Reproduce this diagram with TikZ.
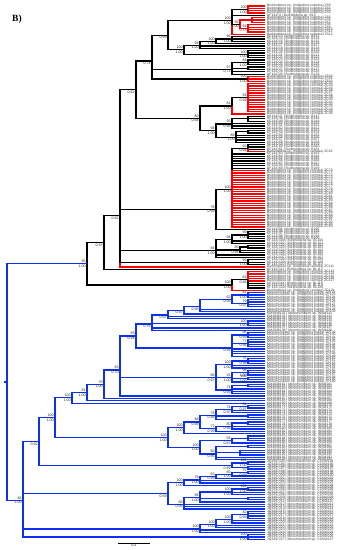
\documentclass[tikz,border=0pt]{standalone}
\usepackage{fontspec}
\setmainfont{Liberation Serif}
\setsansfont{Liberation Sans}
\usepackage{xcolor}
\usepackage{tikz}
\usetikzlibrary{positioning}
\definecolor{treered}{HTML}{FF0000}
\definecolor{treeblue}{HTML}{0A32F0}
\tikzset{
    branch/.style={line width=1.3pt},
    tiplab/.style={
        anchor=west, xshift=2pt, inner sep=0pt, text=black!75,
        font=\sffamily\fontsize{3.4}{3.4}\selectfont
    },
    supl/.style={
        inner sep=0.2pt, text=black!85,
        font=\sffamily\fontsize{3.6}{3.6}\selectfont
    },
}
% clade helpers: node y is the mean of its children, edges drawn as elbows
\newdimen\cladey
\newcommand\addmean[1]{%
  \foreach \ch in {#1}{%
    \pgfextracty{\cladey}{\pgfpointanchor{\ch}{center}}%
    \pgfmathparse{\sumy+(\the\cladey)}\xdef\sumy{\pgfmathresult}%
    \pgfmathparse{\cnt+1}\xdef\cnt{\pgfmathresult}}}
\newcommand\placenode[2]{%
  \pgfmathsetmacro\ymean{\sumy/\cnt}%
  \coordinate (#1) at (#2pt,\ymean pt);}
\newcommand\edges[3]{\foreach \ch in {#3}{\draw[branch,#2] (#1) |- (\ch);}}
\newcommand\clade[4]{\gdef\sumy{0}\gdef\cnt{0}\addmean{#4}\placenode{#1}{#2}\edges{#1}{#3}{#4}}
\newcommand\mclade[6]{\gdef\sumy{0}\gdef\cnt{0}\addmean{#4}\addmean{#6}%
  \placenode{#1}{#2}\edges{#1}{#3}{#4}\edges{#1}{#5}{#6}}
% support values: bootstrap above, posterior below the branch
\newcommand\blab[3]{%
  \node[supl,anchor=south east,xshift=-1pt,yshift=0.7pt] (#1bt) at (#1) {#2};
  \node[supl,anchor=north east,xshift=-1pt,yshift=-0.7pt] (#1pp) at (#1) {#3};}
\newcommand\plab[2]{%
  \node[supl,anchor=north east,xshift=-1pt,yshift=-0.7pt] (#1pp) at (#1) {#2};}
\newcommand\tiplabs[2]{\foreach \i in {#1}{\node[tiplab] (lab\i) at (\i) {#2};}}

\begin{document}
\begin{tikzpicture}[x=1pt,y=-1pt]
    \fill[white] (0,0) rectangle (353,550);
    \useasboundingbox (0,0) rectangle (353,550);

    \node[font=\rmfamily\bfseries\fontsize{9.5}{9.5}\selectfont] (panel) at (17,19) {B)};

    % tips
    \foreach \i in {0,...,227} \coordinate (\i) at (265,{6+2.35*\i});

    % Burkholderia: top group
    \clade{g1}{248}{treered}{0,...,3}
    \clade{n3a}{252}{treered}{5,6,7}
    \clade{n3b}{248}{treered}{8,...,11}
    \clade{n3}{240}{treered}{n3a,n3b}
    \mclade{n1}{232}{treered}{12}{black}{g1,4,n3}
    \clade{l1b}{232}{black}{13,14,15}
    \clade{l1a}{216}{black}{l1b,16}
    \clade{l1}{200}{black}{l1a,17,18}
    \clade{l2}{248}{black}{19,...,22}
    \clade{x1}{184}{black}{l1,l2}
    \clade{p1}{168}{black}{n1,x1}
    \clade{n97a}{248}{black}{23,24,25}
    \clade{n97b}{248}{black}{26,27}
    \clade{n97}{232}{black}{n97a,n97b,28,29}
    \clade{g2}{248}{treered}{30,31,32}
    \clade{q1}{152}{black}{p1,n97,g2}
    \clade{rb}{248}{treered}{33,...,45}
    \mclade{ta}{232}{black}{rb}{treered}{46}
    \clade{tb1a}{248}{black}{47,48,49}
    \clade{tb1}{232}{black}{tb1a,50,51,52}
    \clade{tb2a}{248}{black}{53,54}
    \clade{tb2}{236}{black}{55,...,58,tb2a}
    \clade{tb}{216}{black}{tb1,tb2}
    \clade{t1}{200}{black}{ta,tb}
    \clade{r1}{136}{black}{q1,t1}

    % Burkholderia: middle and lower groups
    \mclade{n92}{248}{black}{59,60,61}{treered}{62}
    \mclade{bp}{232}{black}{63,...,69,n92}{treered}{70,...,94}
    \clade{n78}{216}{black}{bp,95}
    \clade{n84a1}{248}{black}{96,...,99}
    \clade{n84a}{232}{black}{n84a1,100,101}
    \clade{n84b1}{248}{black}{102,103}
    \clade{n84b}{240}{black}{n84b1,104,105}
    \clade{n84}{216}{black}{n84a,n84b,106,107}
    \clade{n99}{248}{black}{108,109,110}
    \mclade{s1}{120}{treered}{111}{black}{r1,n78,n84,n99}
    \clade{n104}{104}{black}{s1,112}
    \mclade{bs}{248}{treered}{113,...,117}{black}{118,119,120}
    \mclade{b1}{232}{black}{bs}{treered}{121}
    \clade{n87}{87}{black}{n104,b1}

    % Mesorhizobium: upper groups
    \clade{u1a}{248}{treeblue}{122,123,124}
    \clade{u1b}{248}{treeblue}{125,...,128}
    \clade{u1}{232}{treeblue}{u1a,u1b}
    \clade{u2}{200}{treeblue}{u1,129,130}
    \clade{u3}{184}{treeblue}{u2,131}
    \clade{u4}{168}{treeblue}{u3,132,133}
    \clade{u6}{248}{treeblue}{134,135,136}
    \clade{u5}{152}{treeblue}{u4,u6,137,138}
    \clade{u7a}{248}{treeblue}{139,140,141}
    \clade{u7b}{248}{treeblue}{142,...,145}
    \clade{u7}{232}{treeblue}{u7a,u7b,146,147,148,149}
    \clade{u8}{136}{treeblue}{u5,u7}
    \clade{m1a1}{248}{treeblue}{150,151,152}
    \clade{m1a}{232}{treeblue}{m1a1,153,154}
    \clade{m1b1}{248}{treeblue}{155,156,157}
    \clade{m1b2}{248}{treeblue}{158,159}
    \clade{m1b}{232}{treeblue}{m1b1,m1b2,160}
    \clade{m1c1}{248}{treeblue}{161,162}
    \clade{m1c}{232}{treeblue}{m1c1,163,164,165}
    \clade{m1}{216}{treeblue}{m1a,m1b,m1c}
    \clade{v120}{120}{treeblue}{u8,m1,166}
    \clade{v104}{104}{treeblue}{v120,167}
    \clade{v87}{87}{treeblue}{v104,168}
    \clade{v72}{72}{treeblue}{v87,169}

    % Mesorhizobium: middle groups
    \clade{wa11}{248}{treeblue}{170,171}
    \clade{wa1}{232}{treeblue}{wa11,172,173}
    \clade{wa2}{248}{treeblue}{174,175}
    \clade{wa}{216}{treeblue}{wa1,wa2,176}
    \clade{wb1}{248}{treeblue}{177,178}
    \clade{wb}{232}{treeblue}{wb1,179,180}
    \clade{wc}{216}{treeblue}{wb,181}
    \clade{w1}{200}{treeblue}{wa,wc}
    \clade{wup}{184}{treeblue}{w1,182}
    \clade{wd1}{248}{treeblue}{183,184,185}
    \clade{wd}{232}{treeblue}{wd1,186}
    \clade{we1}{248}{treeblue}{187,188}
    \clade{we2}{240}{treeblue}{189,190,191}
    \clade{we}{216}{treeblue}{we1,we2,192,193}
    \clade{wlow}{200}{treeblue}{wd,we}
    \clade{w0}{168}{treeblue}{wup,wlow}
    \clade{v55}{55}{treeblue}{v72,w0}
    \clade{y1a}{248}{treeblue}{194,195}
    \clade{y1b}{248}{treeblue}{196,197}
    \clade{y1}{232}{treeblue}{y1a,y1b}
    \clade{v39}{39}{treeblue}{v55,y1}

    % Mesorhizobium: lower groups
    \clade{zu4}{248}{treeblue}{198,199}
    \clade{zu3}{232}{treeblue}{zu4,200}
    \clade{zu2}{216}{treeblue}{zu3,201}
    \clade{zu1}{200}{treeblue}{zu2,202,203}
    \clade{zu}{184}{treeblue}{zu1,204}
    \clade{zl3}{248}{treeblue}{205,206}
    \clade{zl2}{232}{treeblue}{zl3,207,208}
    \clade{zl4}{248}{treeblue}{209,210}
    \clade{zl1}{200}{treeblue}{zl2,zl4,211}
    \clade{zl}{184}{treeblue}{zl1,212,213,214}
    \clade{z1}{168}{treeblue}{zu,zl}
    \clade{z2a1}{248}{treeblue}{215,...,218}
    \clade{z2a}{232}{treeblue}{z2a1,219,220}
    \clade{z2b}{216}{treeblue}{z2a,221,222}
    \clade{z2}{200}{treeblue}{z2b,223,224}
    \clade{z3}{248}{treeblue}{225,226,227}
    \clade{v23}{23}{treeblue}{v39,z1,z2,z3}

    % root
    \clade{root}{7}{treeblue}{n87,v23}
    \coordinate (rootstub) at ([xshift=-3pt]root);
    \draw[branch,treeblue] (rootstub) -- (root);

    % support values
    \blab{g1}{100}{1.00}   \blab{n3}{95}{1.00}    \blab{n3b}{91}{0.73}
    \blab{n1}{100}{1.00}   \blab{l1b}{96}{1.00}   \blab{l1a}{100}{1.00}
    \blab{l1}{99}{1.00}    \blab{x1}{100}{1.00}   \blab{l2}{100}{1.00}
    \plab{p1}{0.99}        \blab{n97}{97}{0.71}   \blab{n97a}{88}{1.00}
    \blab{g2}{100}{1.00}   \plab{q1}{0.74}        \blab{rb}{91}{0.99}
    \blab{ta}{81}{1.00}    \blab{tb1}{93}{0.98}   \blab{tb2}{88}{1.00}
    \blab{tb}{94}{1.00}    \blab{t1}{80}{0.94}    \plab{r1}{0.62}
    \blab{n92}{92}{0.94}   \blab{bp}{100}{1.00}   \blab{n78}{78}{0.99}
    \blab{n84a1}{99}{1.00} \blab{n84a}{94}{1.00}  \blab{n84b}{85}{0.96}
    \blab{n84}{84}{1.00}   \blab{n99}{99}{1.00}   \plab{s1}{0.92}
    \plab{n104}{0.97}      \blab{bs}{81}{0.99}    \blab{b1}{100}{1.00}
    \blab{n87}{95}{1.00}
    \blab{u1a}{81}{1.00}   \blab{u1b}{79}{0.97}   \blab{u1}{62}{0.95}
    \plab{u2}{0.95}        \plab{u3}{0.97}        \plab{u4}{0.97}
    \plab{u5}{0.76}        \blab{u6}{100}{1.00}   \blab{u7a}{96}{0.99}
    \blab{u7b}{77}{0.96}   \plab{u7}{0.94}        \blab{u8}{59}{0.94}
    \blab{m1a1}{75}{0.98}  \blab{m1a}{100}{1.00}  \blab{m1b1}{98}{1.00}
    \blab{m1b2}{100}{1.00} \blab{m1b}{91}{1.00}   \blab{m1c}{74}{0.99}
    \blab{m1}{86}{0.97}    \blab{v120}{83}{0.70}  \blab{v104}{70}{1.00}
    \blab{v87}{61}{1.00}   \blab{v72}{100}{1.00}
    \blab{wa11}{64}{0.97}  \blab{wa1}{74}{0.97}   \blab{wa}{79}{0.99}
    \blab{wb}{80}{0.96}    \blab{wc}{71}{0.99}    \blab{w1}{88}{0.98}
    \blab{wup}{100}{1.00}  \blab{wd}{93}{0.87}    \blab{we}{80}{0.96}
    \blab{wlow}{100}{1.00} \blab{w0}{100}{1.00}   \blab{v55}{100}{1.00}
    \blab{y1a}{100}{1.00}  \plab{y1}{0.99}        \plab{v39}{0.92}
    \blab{zu4}{75}{0.99}   \blab{zu3}{80}{1.00}   \blab{zu2}{63}{0.99}
    \blab{zu1}{78}{1.00}   \blab{zu}{100}{1.00}   \blab{zl3}{100}{1.00}
    \blab{zl2}{100}{1.00}  \blab{zl1}{96}{1.00}   \blab{zl}{66}{0.96}
    \plab{z1}{0.59}        \blab{z2a1}{82}{0.99}  \blab{z2a}{100}{1.00}
    \blab{z2b}{100}{1.00}  \blab{z2}{100}{1.00}   \blab{z3}{100}{1.00}
    \blab{v23}{86}{1.00}

    % tip labels
    \tiplabs{0,...,3}{Burkholderia sp. (Indigofera superba) ZS\i}
    \tiplabs{5,...,12}{Burkholderia sp. (Indigofera superba) ZS\i}
    \tiplabs{30,31,32}{Burkholderia sp. (Indigofera superba) ZS\i}
    \tiplabs{4}{KF1347\i{} | Burkholderia sp. BL\i}
    \tiplabs{13,...,29}{KF1347\i{} | Burkholderia sp. BL\i}
    \tiplabs{33,...,46}{Burkholderia sp. (Indigofera carnosa) ZC\i}
    \tiplabs{47,...,61}{KF1347\i{} | Burkholderia sp. BL\i}
    \tiplabs{62}{Burkholderia sp. (Indigofera carnosa) ZC\i}
    \tiplabs{63,...,69}{KF1347\i{} | Burkholderia sp. BL\i}
    \tiplabs{70,...,94}{Burkholderia sp. (Indigofera carnosa) ZC\i}
    \tiplabs{95,...,110}{KF1347\i{} | Burkholderia sp. BL\i}
    \tiplabs{111}{Burkholderia sp. (Indigofera carnosa) ZC\i}
    \tiplabs{112}{KF1347\i{} | Burkholderia sp. BL\i}
    \tiplabs{113,...,117}{Burkholderia sp. (Indigofera carnosa) ZC\i}
    \tiplabs{118,119,120}{KF1347\i{} | Burkholderia sp. BL\i}
    \tiplabs{121}{Burkholderia sp. (Indigofera carnosa) ZC\i}
    \tiplabs{122,...,130}{Mesorhizobium sp. (Indigofera pubes) ZP\i}
    \tiplabs{131,...,138}{KM4938\i{} | Mesorhizobium sp. WSM\i}
    \tiplabs{139,...,160}{Mesorhizobium sp. (Indigofera pubes) ZP\i}
    \tiplabs{161,...,193}{KM4938\i{} | Mesorhizobium sp. WSM\i}
    \tiplabs{194,...,227}{JQ3397\i{} | Mesorhizobium sp. CCNW\i}

    % scale bar
    \coordinate (sbl) at (118,543);
    \coordinate (sbr) at (150,543);
    \draw[line width=0.9pt] (sbl) -- (sbr)
        node[midway, below=0.2pt, inner sep=0.3pt, font=\sffamily\fontsize{3.4}{3.4}\selectfont] (sblab) {0.1};

\end{tikzpicture}
\end{document}
